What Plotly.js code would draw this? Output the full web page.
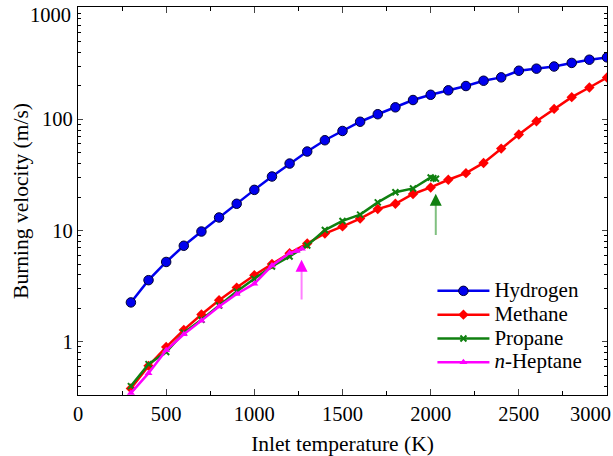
<!DOCTYPE html>
<html>
<head>
<meta charset="utf-8">
<script src="https://cdn.plot.ly/plotly-3.0.1.min.js"></script>
<style>
html,body{margin:0;padding:0;background:#fff}
#chart{width:613px;height:456px}
</style>
</head>
<body>
<div id="chart"></div>
<script>
// Inlet temperature (K)
const tempH2 = [300,400,500,600,700,800,900,1000,1100,1200,1300,1400,1500,1600,1700,1800,1900,2000,2100,2200,2300,2400,2500,2600,2700,2800,2900,3000];
const hydrogen = [2.26,3.58,5.22,7.3,9.8,13.1,17.4,23.2,30.6,40.0,51.3,64.8,78.5,95,111,128,149,166,182,199,222,238,273,285,298,321,343,360];

const tempCH4 = [300,400,500,600,700,800,900,1000,1100,1200,1300,1400,1500,1600,1700,1800,1900,2000,2100,2200,2300,2400,2500,2600,2700,2800,2900,3000];
const methane = [0.38,0.608,0.898,1.28,1.76,2.36,3.07,3.97,5.0,6.26,7.65,9.4,10.9,12.8,15.6,17.4,21.3,24.4,28.6,32.8,40.5,54.5,73,96,124,158,193,237];

const tempC3H8 = [300,400,500,600,700,800,900,1000,1100,1200,1300,1400,1500,1600,1700,1800,1900,2000,2015,2030];
const propane = [0.40,0.63,0.81,1.21,1.58,2.12,2.83,3.68,4.75,5.85,7.35,10.1,12.2,13.9,17.9,22.1,23.9,30.0,29.5,29.2];

const tempC7H16 = [300,400,500,600,700,800,900,1000,1100,1200,1240,1270];
const heptane = [0.346,0.523,0.84,1.17,1.55,2.08,2.69,3.33,4.85,6.27,6.55,6.85];

// Arrows marking the limit of each fuel
const arrowTemp = [1268, 2029];
const arrowTip = [5.45, 21.4];
const arrowTail = [2.33, 8.85];
const arrowColor = ['#ff00ff', '#108010'];
const arrowShaftColor = ['#ff80ff', '#80c080'];

const seriesNames = ['Hydrogen', 'Methane', 'Propane', '<i>n</i>-Heptane'];

// axis ticks
const xTickVals = [0, 500, 1000, 1500, 2000, 2500, 3000];
const xTickText = ['0', '500', '1000', '1500', '2000', '2500', ''];
const yTickVals = [1, 10, 100, 1000];
const yTickText = ['1', '10', '100', ''];

const traces = [
  {x: tempH2, y: hydrogen, name: seriesNames[0], mode: 'lines+markers',
   line: {color: '#0000ee', width: 2.5},
   marker: {symbol: 'circle', size: 9.5, color: '#0000ee', line: {color: '#000033', width: 1}}},
  {x: tempCH4, y: methane, name: seriesNames[1], mode: 'lines+markers',
   line: {color: '#ff0000', width: 2.5},
   marker: {symbol: 'diamond', size: 8, color: '#ff0000'}},
  {x: tempC3H8, y: propane, name: seriesNames[2], mode: 'lines+markers',
   line: {color: '#108010', width: 2.5},
   marker: {symbol: 'x-thin', size: 6, color: '#108010', line: {color: '#108010', width: 2}}},
  {x: tempC7H16, y: heptane, name: seriesNames[3], mode: 'lines+markers',
   line: {color: '#ff00ff', width: 2.5},
   marker: {symbol: 'triangle-up', size: 7, color: '#ff00ff'}}
];
traces.forEach(t => { t.name = '<span style="font-size:21px">' + t.name + '</span>'; });

const annotations = [];
for (let i = 0; i < arrowTemp.length; i++) {
  annotations.push({x: arrowTemp[i], y: Math.log10(arrowTip[i]), ax: arrowTemp[i], ay: Math.log10(arrowTail[i]),
    xref: 'x', yref: 'y', axref: 'x', ayref: 'y', text: '', showarrow: true,
    arrowhead: 0, arrowwidth: 2, arrowcolor: arrowShaftColor[i], standoff: 6});
  annotations.push({x: arrowTemp[i], y: Math.log10(arrowTip[i]), ax: 0, ay: 10,
    xref: 'x', yref: 'y', text: '', showarrow: true,
    arrowhead: 2, arrowwidth: 2, arrowsize: 1.2, arrowcolor: arrowColor[i]});
}
// edge tick labels that sit inside the picture
annotations.push({x: 0, xref: 'paper', xanchor: 'right', xshift: -5, y: Math.log10(yTickVals[3]), yref: 'y', yanchor: 'middle', yshift: -7,
  text: String(yTickVals[3]), showarrow: false, font: {family: 'Liberation Serif', size: 20.5, color: 'black'}});
annotations.push({x: xTickVals[6], xref: 'x', xanchor: 'right', xshift: 6, y: 0, yref: 'paper', yanchor: 'top', yshift: -6,
  text: String(xTickVals[6]), showarrow: false, font: {family: 'Liberation Serif', size: 20.5, color: 'black'}});

const layout = {
  width: 613, height: 456,
  margin: {l: 78, r: 6, t: 7, b: 61},
  paper_bgcolor: '#fff', plot_bgcolor: '#fff',
  showlegend: true,
  legend: {x: 0.67, y: 0.312, xanchor: 'left', yanchor: 'top', bgcolor: 'rgba(0,0,0,0)',
    font: {family: 'Liberation Serif', size: 16, color: 'black'}, itemwidth: 52},
  xaxis: {range: [0, 3000], tickmode: 'array', tickvals: xTickVals, ticktext: xTickText, ticks: 'inside', ticklen: 6, tickwidth: 1,
    showline: true, linecolor: '#000', linewidth: 1.2, mirror: 'allticks', showgrid: false, zeroline: false,
    minor: {dtick: 250, tick0: 0, ticks: 'inside', ticklen: 4, tickcolor: '#000', showgrid: false},
    tickfont: {family: 'Liberation Serif', size: 20.5, color: 'black'},
    title: {text: 'Inlet temperature (K)', font: {family: 'Liberation Serif', size: 21.5, color: 'black'}, standoff: 13}},
  yaxis: {type: 'log', range: [-0.478, 3.009], tickmode: 'array', tickvals: yTickVals, ticktext: yTickText, ticks: 'inside', ticklen: 5, tickwidth: 1,
    showline: true, linecolor: '#000', linewidth: 1.2, mirror: 'allticks', showgrid: false, zeroline: false,
    minor: {dtick: 'D1', ticks: 'inside', ticklen: 3, tickcolor: '#000', showgrid: false},
    tickfont: {family: 'Liberation Serif', size: 20.5, color: 'black'},
    title: {text: 'Burning velocity (m/s)', font: {family: 'Liberation Serif', size: 21.5, color: 'black'}, standoff: 7}},
  annotations: annotations
};

Plotly.newPlot('chart', traces, layout, {staticPlot: true});
</script>
</body>
</html>
